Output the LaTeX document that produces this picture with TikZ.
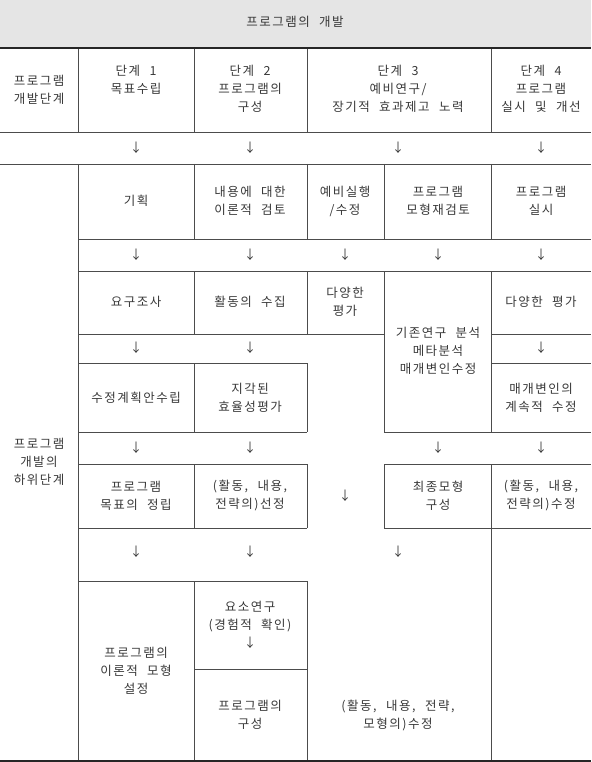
\documentclass[tikz,border=0pt]{standalone}
\usepackage{fontspec}
\setmainfont{Noto Sans CJK KR}[LetterSpace=12,WordSpace=2.2]

\begin{document}
\begin{tikzpicture}[x=1pt,y=-1pt,
   cell/.style={align=center,text=black!78,font=\fontsize{12.5}{18}\selectfont,inner sep=0pt},
   rule/.style={draw=black!70,line width=0.7pt},
   heavy/.style={draw=black!85,line width=1.6pt}]
   \useasboundingbox (0,0) rectangle (591,762);
   \fill[black!10] (0,0) rectangle (591,48);

   \draw[rule] (0,132) -- (591,132);
   \draw[rule] (0,164) -- (591,164);
   \draw[rule] (78,48) -- (78,132) (194,48) -- (194,132) (307,48) -- (307,132) (491,48) -- (491,132);
   \draw[rule] (78,164) -- (78,762);
   \draw[rule] (194,164) -- (194,239) (307,164) -- (307,239) (384,164) -- (384,239) (491,164) -- (491,239);
   \draw[rule] (78,239) -- (591,239);
   \draw[rule] (78,271) -- (591,271);
   \draw[rule] (194,271) -- (194,334) (307,271) -- (307,334) (384,271) -- (384,432) (491,271) -- (491,432);
   \draw[rule] (78,334) -- (384,334) (491,334) -- (591,334);
   \draw[rule] (78,363) -- (307,363) (491,363) -- (591,363);
   \draw[rule] (194,363) -- (194,432) (307,363) -- (307,432);
   \draw[rule] (78,432) -- (307,432) (384,432) -- (591,432);
   \draw[rule] (78,464) -- (307,464) (384,464) -- (591,464);
   \draw[rule] (194,464) -- (194,528) (307,464) -- (307,528) (384,464) -- (384,528) (491,464) -- (491,762);
   \draw[rule] (78,528) -- (307,528) (384,528) -- (591,528);
   \draw[rule] (78,581) -- (307,581);
   \draw[rule] (194,581) -- (194,762) (307,581) -- (307,762);
   \draw[rule] (194,669) -- (307,669);
   \draw[heavy] (0,48) -- (591,48);
   \draw[heavy] (0,761) -- (591,761);

   \node[cell] (title) at (295,22) {프로그램의 개발};

   \node[cell] (s0) at (39,90) {프로그램\\개발단계};
   \node[cell,anchor=north] (s1) at (136,65) {단계 1\\목표수립};
   \node[cell,anchor=north] (s2) at (250,65) {단계 2\\프로그램의\\구성};
   \node[cell,anchor=north] (s3) at (398,65) {단계 3\\예비연구/\\장기적 효과제고 노력};
   \node[cell,anchor=north] (s4) at (541,65) {단계 4\\프로그램\\실시 및 개선};

   \node[cell] (ar11) at (136,148) {↓};
   \node[cell] (ar12) at (250,148) {↓};
   \node[cell] (ar13) at (398,148) {↓};
   \node[cell] (ar14) at (541,148) {↓};

   \node[cell] (sub) at (39,462) {프로그램\\개발의\\하위단계};

   \node[cell] (b11) at (136,201) {기획};
   \node[cell] (b12) at (250,201) {내용에 대한\\이론적 검토};
   \node[cell] (b13) at (345,201) {예비실행\\/수정};
   \node[cell] (b14) at (438,201) {프로그램\\모형재검토};
   \node[cell] (b15) at (541,201) {프로그램\\실시};

   \node[cell] (ar21) at (136,255) {↓};
   \node[cell] (ar22) at (250,255) {↓};
   \node[cell] (ar23) at (345,255) {↓};
   \node[cell] (ar24) at (438,255) {↓};
   \node[cell] (ar25) at (541,255) {↓};

   \node[cell] (b21) at (136,302) {요구조사};
   \node[cell] (b22) at (250,302) {활동의 수집};
   \node[cell] (b23) at (345,302) {다양한\\평가};
   \node[cell] (b24) at (438,351) {기존연구 분석\\메타분석\\매개변인수정};
   \node[cell] (b25) at (541,302) {다양한 평가};

   \node[cell] (ar31) at (136,348) {↓};
   \node[cell] (ar32) at (250,348) {↓};
   \node[cell] (ar35) at (541,348) {↓};

   \node[cell] (b31) at (136,398) {수정계획안수립};
   \node[cell] (b32) at (250,398) {지각된\\효율성평가};
   \node[cell] (b35) at (541,398) {매개변인의\\계속적 수정};

   \node[cell] (ar41) at (136,448) {↓};
   \node[cell] (ar42) at (250,448) {↓};
   \node[cell] (ar44) at (438,448) {↓};
   \node[cell] (ar45) at (541,448) {↓};

   \node[cell] (b41) at (136,496) {프로그램\\목표의 정립};
   \node[cell] (b42) at (250,496) {(활동, 내용,\\전략의)선정};
   \node[cell] (b43) at (345,496) {↓};
   \node[cell] (b44) at (438,496) {최종모형\\구성};
   \node[cell] (b45) at (541,496) {(활동, 내용,\\전략의)수정};

   \node[cell] (ar51) at (136,552) {↓};
   \node[cell] (ar52) at (250,552) {↓};
   \node[cell] (ar53) at (398,552) {↓};

   \node[cell] (b51) at (136,671) {프로그램의\\이론적 모형\\설정};
   \node[cell] (b52) at (250,625) {요소연구\\(경험적 확인)\\↓};
   \node[cell] (b62) at (250,715) {프로그램의\\구성};
   \node[cell] (b53) at (398,715) {(활동, 내용, 전략,\\모형의)수정};

\end{tikzpicture}
\end{document}
